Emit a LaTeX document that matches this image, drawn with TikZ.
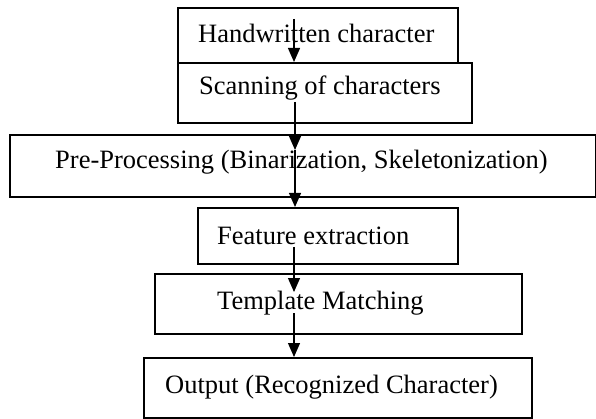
\documentclass[tikz,border=0pt]{standalone}
\usepackage{fontspec}
\setmainfont{Liberation Serif}
\usetikzlibrary{arrows.meta}
\begin{document}
\begin{tikzpicture}[x=1pt,y=-1pt,
  box/.style={draw, line width=1.6pt, inner sep=0pt, anchor=north west},
  lbl/.style={inner sep=0pt, anchor=base west, font=\fontsize{26.5}{30}\selectfont},
  arr/.style={line width=1.2pt, -{Triangle[length=14pt,width=12pt]}}]
\useasboundingbox (0,0) rectangle (596,419);
% boxes
\node[box, minimum width=280pt, minimum height=55pt] (b1) at (177,7) {};
\node[box, minimum width=294pt, minimum height=60pt] (b2) at (177,62) {};
\node[box, minimum width=586pt, minimum height=62pt] (b3) at (9,134) {};
\node[box, minimum width=260pt, minimum height=56pt] (b4) at (197,207) {};
\node[box, minimum width=367pt, minimum height=60pt] (b5) at (154,273) {};
\node[box, minimum width=388pt, minimum height=60pt] (b6) at (143,357) {};
% labels
\node[lbl] (t1) at (198,43) {Handwritten character};
\node[lbl] (t2) at (199,95) {Scanning of characters};
\node[lbl] (t3) at (55,169) {Pre-Processing (Binarization, Skeletonization)};
\node[lbl] (t4) at (217,245) {Feature extraction};
\node[lbl] (t5) at (217,309) {Template Matching};
\node[lbl] (t6) at (165,393) {Output (Recognized Character)};
% arrow points
\coordinate (a1) at (294,19);
\coordinate (a2) at (295,102);
\coordinate (a3) at (295,150);
\coordinate (a4) at (294,247);
\coordinate (a5) at (294,292);
\coordinate (a6) at (294,313);
% connectors
\draw[arr] (a1) -- (a1 |- b2.north);
\draw[arr] (a2) -- (a3);
\draw[arr] (a3) -- (a3 |- b4.north);
\draw[arr] (a4) -- (a5);
\draw[arr] (a6) -- (a6 |- b6.north);
\end{tikzpicture}
\end{document}
